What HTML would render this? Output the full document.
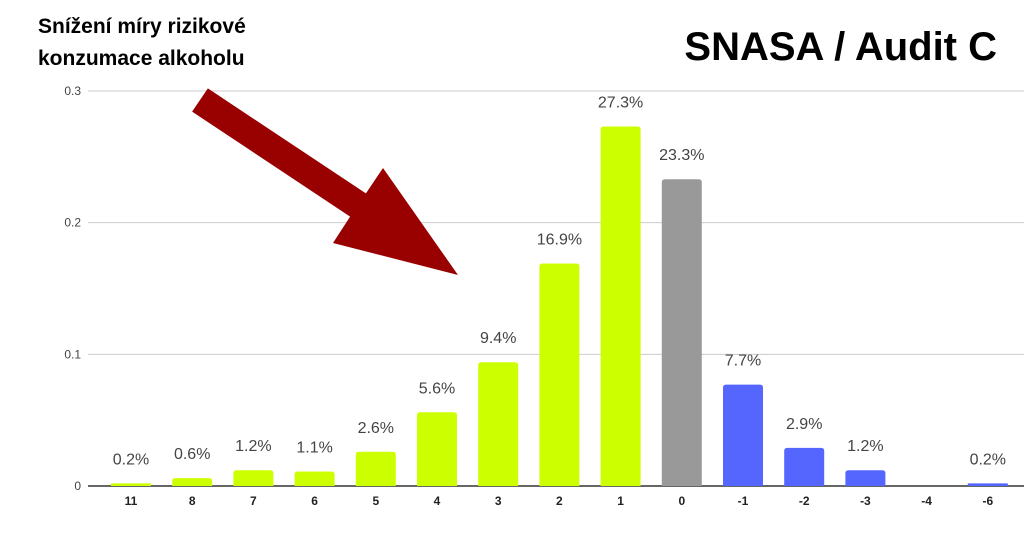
<!DOCTYPE html>
<html><head><meta charset="utf-8"><style>
body{margin:0;background:#fff;}
svg{display:block;font-family:"Liberation Sans",Arial,sans-serif;}
</style></head><body>
<svg id="chart" width="1024" height="533" viewBox="0 0 1024 533">
<text x="38" y="33" font-size="21" font-weight="bold" fill="#000">Snížení míry rizikové</text>
<text x="38" y="65" font-size="21" font-weight="bold" fill="#000">konzumace alkoholu</text>
<text x="997" y="60" font-size="40" font-weight="bold" fill="#000" text-anchor="end">SNASA / Audit C</text>
<g id="grid"></g><g id="bars"></g><g id="labels"></g>
<polygon points="207.9,88.4 365.9,193.4 383,168 458,275 333,243 350.1,216.6 192.1,111.6" fill="#990000"/>
</svg>
<script>
const categories=["11","8","7","6","5","4","3","2","1","0","-1","-2","-3","-4","-6"];
const values=[0.002,0.006,0.012,0.011,0.026,0.056,0.094,0.169,0.273,0.233,0.077,0.029,0.012,0,0.002];
const valueLabels=["0.2%","0.6%","1.2%","1.1%","2.6%","5.6%","9.4%","16.9%","27.3%","23.3%","7.7%","2.9%","1.2%","","0.2%"];
const yTicks=[0,0.1,0.2,0.3];
const yTickLabels=["0","0.1","0.2","0.3"];
const ns="http://www.w3.org/2000/svg";
const y0=486,yTop=91,xLeft=88,xRight=1024;
const y=v=>y0-(v/0.3)*(y0-yTop);
const step=61.2,first=131;
const x=i=>first+i*step;
function el(t,a){const e=document.createElementNS(ns,t);for(const k in a)e.setAttribute(k,a[k]);return e;}
const grid=document.getElementById('grid'),bars=document.getElementById('bars'),labels=document.getElementById('labels');
yTicks.forEach((t,i)=>{
 const l=el('line',{x1:xLeft,x2:xRight,y1:y(t),y2:y(t),stroke:t===0?'#333':'#ccc','stroke-width':t===0?1.5:1});
 
 
 grid.appendChild(l);
 const tx=el('text',{x:81,y:y(t)+4,'font-size':12,fill:'#444','text-anchor':'end'});
 tx.textContent=yTickLabels[i];
 
 
 grid.appendChild(tx);
});
categories.forEach((c,i)=>{
 const v=values[i];
 const col=i<9?'#ccff00':(i===9?'#999999':'#5566ff');
 const h=y0-y(v);
 if(h>0){
  const r=el('path',{d:`M${x(i)-20},${y0} V${y(v)+3} Q${x(i)-20},${y(v)} ${x(i)-17},${y(v)} H${x(i)+17} Q${x(i)+20},${y(v)} ${x(i)+20},${y(v)+3} V${y0} Z`,fill:col});
  if(h<3)r.setAttribute('d',`M${x(i)-20},${y0} V${y(v)} H${x(i)+20} V${y0} Z`);
  
  
  bars.appendChild(r);
 }
 const ct=el('text',{x:x(i),y:505,'font-size':12,'font-weight':'bold',fill:'#222','text-anchor':'middle'});
 ct.textContent=c;
 
 
 labels.appendChild(ct);
 if(valueLabels[i]){
  const vt=el('text',{x:x(i),y:y(v)-19,'font-size':16,fill:'#444','text-anchor':'middle'});
  vt.textContent=valueLabels[i];
  
  
  labels.appendChild(vt);
 }
});
</script>
</body></html>
